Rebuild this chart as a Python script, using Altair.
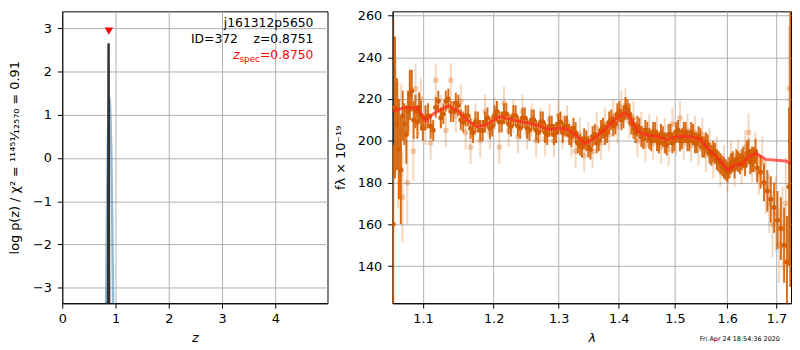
import altair as alt
import pandas as pd

# ---------------- left panel: log p(z) ----------------
pz_black_z = [0.845, 0.862, 0.870, 0.878, 0.895]
pz_black_logp = [-9.0, -2.5, 2.65, -2.5, -9.0]
pz_blue_z = [0.80, 0.82, 0.84, 0.86, 0.875, 0.885, 0.90, 0.92, 0.94, 0.96, 0.98]
pz_blue_logp = [-6.3, -3.9, -1.2, 0.6, 1.27, 1.40, 1.15, 0.2, -1.6, -4.0, -7.0]
zspec_z = [0.875]
zspec_y = [2.93]

# ---------------- right panel: spectrum ----------------
model_wave = [1.0598, 1.0749, 1.0925, 1.1036, 1.1148, 1.1353, 1.1469, 1.1609, 1.1751, 1.1894,
              1.2089, 1.2286, 1.2487, 1.2691, 1.2846, 1.3003, 1.3162, 1.3296, 1.3431, 1.3595,
              1.3761, 1.3929, 1.4100, 1.4186, 1.4329, 1.4506, 1.4682, 1.4862, 1.5043, 1.5290,
              1.5476, 1.5667, 1.5858, 1.6019, 1.6148, 1.6281, 1.6446, 1.6580, 1.6780, 1.6987,
              1.7196, 1.7303]
model_flux = [214.2, 215.8, 215.8, 209.5, 213.1, 216.8, 214.7, 210.0, 206.9, 207.6,
              211.6, 210.0, 208.7, 207.3, 205.3, 206.1, 205.3, 202.1, 198.5, 201.4,
              205.3, 210.0, 213.6, 211.6, 204.5, 202.6, 202.1, 200.6, 202.1, 202.1,
              200.6, 195.1, 190.7, 185.9, 188.8, 188.5, 192.7, 193.8, 191.1, 190.7,
              190.3, 189.1]

dark_wave = [1.0605, 1.0628, 1.0655, 1.0680, 1.0705, 1.0730, 1.0752, 1.0778, 1.0800, 1.0825,
             1.0850, 1.0875, 1.0900, 1.0925, 1.0950, 1.0975,
             1.100, 1.107, 1.114, 1.121, 1.128, 1.135, 1.142, 1.149, 1.156, 1.163,
             1.170, 1.177, 1.184, 1.191, 1.198, 1.205, 1.212, 1.219, 1.226, 1.233,
             1.240, 1.247, 1.254, 1.261, 1.268, 1.275, 1.282, 1.289, 1.296, 1.303,
             1.310, 1.317, 1.324, 1.331, 1.338, 1.345, 1.352, 1.359, 1.366, 1.373,
             1.380, 1.387, 1.394, 1.401, 1.408, 1.415, 1.422, 1.429, 1.436, 1.443,
             1.450, 1.457, 1.464, 1.471, 1.478, 1.485, 1.492, 1.499, 1.506, 1.513,
             1.520, 1.527, 1.534, 1.541, 1.548, 1.555, 1.562, 1.569, 1.576, 1.583,
             1.590, 1.597, 1.604, 1.611, 1.618, 1.625, 1.632, 1.639, 1.646, 1.653,
             1.660, 1.667, 1.674, 1.681, 1.688, 1.695, 1.702, 1.709, 1.716, 1.722,
             1.7265, 1.7290]
dark_flux = [160, 216, 208, 196, 186, 212, 208, 203, 214, 222,
             224, 210, 214, 209, 216, 212,
             206, 212, 205, 219, 213, 220, 214, 217, 209, 212,
             204, 209, 205, 211, 207, 214, 209, 213, 207, 212,
             206, 211, 205, 210, 204, 209, 203, 207, 204, 209,
             207, 203, 206, 199, 197, 200, 196, 203, 200, 206,
             204, 210, 208, 214, 211, 215, 208, 204, 206, 201,
             204, 200, 204, 199, 202, 198, 203, 200, 205, 201,
             204, 200, 203, 199, 201, 197, 198, 193, 194, 190,
             188, 186, 187, 190, 191, 189, 192, 194, 190, 191,
             187, 185, 180, 176, 172, 168, 162, 158, 150, 142,
             178, 200]
dark_err = [38, 34, 22, 24, 26, 12, 10, 14, 10, 12,
            10, 9, 8, 8, 7, 7,
            6, 6, 5, 5, 5, 5, 5, 5, 5, 5,
            5, 5, 5, 5, 5, 5, 5, 5, 5, 5,
            5, 5, 5, 5, 5, 5, 5, 5, 5, 5,
            5, 5, 5, 5, 5, 5, 5, 5, 5, 5,
            5, 5, 5, 5, 5, 5, 5, 5, 5, 5,
            5, 5, 5, 5, 5, 5, 5, 5, 5, 5,
            5, 5, 5, 5, 5, 5, 5, 5, 5, 5,
            5, 5, 5, 5, 5, 5, 5, 6, 6, 6,
            7, 8, 9, 10, 11, 12, 14, 15, 18, 22,
            38, 70]

# second set of solid points, interleaved with the first
dark2_wave = [1.1035, 1.1105, 1.1175, 1.1245, 1.1315, 1.1385, 1.1455, 1.1525, 1.1595, 1.1665,
              1.1735, 1.1805, 1.1875, 1.1945, 1.2015, 1.2085, 1.2155, 1.2225, 1.2295, 1.2365,
              1.2435, 1.2505, 1.2575, 1.2645, 1.2715, 1.2785, 1.2855, 1.2925, 1.2995, 1.3065,
              1.3135, 1.3205, 1.3275, 1.3345, 1.3415, 1.3485, 1.3555, 1.3625, 1.3695, 1.3765,
              1.3835, 1.3905, 1.3975, 1.4045, 1.4115, 1.4185, 1.4255, 1.4325, 1.4395, 1.4465,
              1.4535, 1.4605, 1.4675, 1.4745, 1.4815, 1.4885, 1.4955, 1.5025, 1.5095, 1.5165,
              1.5235, 1.5305, 1.5375, 1.5445, 1.5515, 1.5585, 1.5655, 1.5725, 1.5795, 1.5865,
              1.5935, 1.6005, 1.6075, 1.6145, 1.6215, 1.6285, 1.6355, 1.6425, 1.6495, 1.6565]
dark2_flux = [211, 207, 216, 211, 219, 214, 218, 210, 212, 206,
              209, 205, 209, 206, 212, 209, 213, 208, 212, 207,
              211, 206, 210, 205, 209, 204, 207, 203, 208, 204,
              207, 202, 204, 198, 201, 197, 202, 199, 205, 203,
              209, 207, 213, 210, 216, 213, 206, 207, 202, 205,
              201, 204, 200, 203, 199, 203, 199, 204, 200, 204,
              200, 204, 199, 202, 197, 199, 194, 195, 191, 189,
              187, 185, 189, 187, 190, 191, 188, 195, 191, 195]
dark2_err = [6, 6, 5, 5, 5, 5, 5, 5, 5, 5,
             5, 5, 5, 5, 5, 5, 5, 5, 5, 5,
             5, 5, 5, 5, 5, 5, 5, 5, 5, 5,
             5, 5, 5, 5, 5, 5, 5, 5, 5, 5,
             5, 5, 5, 5, 5, 5, 5, 5, 5, 5,
             5, 5, 5, 5, 5, 5, 5, 5, 5, 5,
             5, 5, 5, 5, 5, 5, 5, 5, 5, 5,
             5, 5, 5, 5, 5, 5, 5, 6, 6, 6]

light_wave = [1.0610, 1.0640, 1.0670, 1.0710, 1.0727, 1.0792, 1.0820, 1.0870, 1.0900, 1.0940,
              1.0970, 1.1035, 1.1105, 1.1175, 1.1245, 1.1315, 1.1385, 1.1455, 1.1525, 1.1595,
              1.1665, 1.1735, 1.1805, 1.1875, 1.1945, 1.2015, 1.2085, 1.2155, 1.2225, 1.2295,
              1.2365, 1.2435, 1.2505, 1.2575, 1.2645, 1.2715, 1.2785, 1.2855, 1.2925, 1.2995,
              1.3065, 1.3135, 1.3205, 1.3275, 1.3345, 1.3415, 1.3485, 1.3555, 1.3625, 1.3695,
              1.3765, 1.3835, 1.3905, 1.3975, 1.4045, 1.4115, 1.4185, 1.4255, 1.4325, 1.4395,
              1.4465, 1.4535, 1.4605, 1.4675, 1.4745, 1.4815, 1.4885, 1.4955, 1.5025, 1.5095,
              1.5165, 1.5235, 1.5305, 1.5375, 1.5445, 1.5515, 1.5585, 1.5655, 1.5725, 1.5795,
              1.5865, 1.5935, 1.6005, 1.6075, 1.6145, 1.6215, 1.6285, 1.6355, 1.6425, 1.6495,
              1.6565, 1.6635, 1.6705, 1.6775, 1.6845, 1.6915, 1.6985, 1.7055, 1.7125, 1.7195,
              1.7265]
light_flux = [238, 210, 198, 205, 173, 180, 218, 195, 225, 213,
              220, 207, 199, 229, 214, 205, 229, 212, 219, 204,
              197, 210, 200, 214, 204, 213, 197, 218, 205, 212,
              202, 214, 204, 210, 200, 208, 201, 210, 200, 212,
              204, 209, 200, 195, 203, 193, 201, 195, 206, 199,
              208, 203, 212, 207, 216, 217, 209, 211, 200, 206,
              198, 205, 199, 204, 197, 203, 196, 208, 201, 211,
              199, 205, 198, 204, 196, 203, 193, 198, 190, 194,
              186, 190, 183, 192, 186, 193, 187, 197, 204, 189,
              194, 184, 190, 178, 170, 160, 165, 150, 158, 170,
              225]
light_err = [20, 25, 30, 22, 22, 20, 15, 14, 12, 11,
             10, 9, 8, 8, 8, 8, 8, 8, 8, 8,
             8, 8, 8, 8, 8, 8, 8, 8, 8, 8,
             8, 8, 8, 8, 8, 8, 8, 8, 8, 8,
             8, 8, 8, 8, 8, 8, 8, 8, 8, 8,
             8, 8, 8, 8, 8, 8, 8, 8, 8, 8,
             8, 8, 8, 8, 8, 8, 8, 8, 8, 8,
             8, 8, 8, 8, 8, 8, 8, 8, 8, 8,
             8, 8, 8, 8, 8, 8, 8, 8, 9, 9,
             10, 10, 12, 13, 14, 16, 18, 18, 20, 22,
             30]

ORANGE = "#d45e00"
FONT = "DejaVu Sans"
NB = "\u00a0"

df_black = pd.DataFrame({"z": pz_black_z, "logp": pz_black_logp})
df_blue = pd.DataFrame({"z": pz_blue_z, "logp": pz_blue_logp})
df_zspec = pd.DataFrame({"z": zspec_z, "logp": zspec_y})
df_model = pd.DataFrame({"wave": model_wave, "flux": model_flux})
df_dark = pd.DataFrame({"wave": dark_wave + dark2_wave, "flux": dark_flux + dark2_flux,
                        "err": dark_err + dark2_err})
df_dark["lo"] = df_dark["flux"] - df_dark["err"]
df_dark["hi"] = df_dark["flux"] + df_dark["err"]
df_light = pd.DataFrame({"wave": light_wave, "flux": light_flux, "err": light_err})
df_light["lo"] = df_light["flux"] - df_light["err"]
df_light["hi"] = df_light["flux"] + df_light["err"]

H = 296

# ---------- left chart ----------
zx = alt.Scale(domain=[0, 4.98], nice=False, zero=False)
zy = alt.Scale(domain=[-3.358, 3.387], nice=False, zero=False)
zx_axis = alt.Axis(values=[0, 1, 2, 3, 4], format="d", title="z", titleFontStyle="italic",
                   labelPadding=5, titlePadding=6)
zy_axis = alt.Axis(values=[-3, -2, -1, 0, 1, 2, 3], format="d",
                   title="log p(z) / χ² = ¹¹⁴⁵¹⁄₁₂₅₇₀ = 0.91", labelPadding=6, titlePadding=11)

def zenc(field_y="logp"):
    return dict(x=alt.X("z:Q", scale=zx, axis=zx_axis),
                y=alt.Y(f"{field_y}:Q", scale=zy, axis=zy_axis))

blue = alt.Chart(df_blue).mark_line(color="#1f77b4", opacity=0.5, strokeWidth=2.5, clip=True).encode(**zenc())
black = alt.Chart(df_black).mark_line(color="#333333", strokeWidth=2.5, clip=True).encode(**zenc())
tri = alt.Chart(df_zspec).mark_point(shape="triangle-down", filled=True, color="red", opacity=1,
                                     size=70).encode(**zenc())

def label(txt, x, y, size=12.5, color="black", style="normal"):
    return alt.Chart(pd.DataFrame({"t": [txt]})).mark_text(
        align="right", baseline="alphabetic", font=FONT, fontSize=size, color=color, fontStyle=style
    ).encode(x=alt.value(x), y=alt.value(y), text="t:N")

t1 = label("j161312p5650", 254.7, 15.5)
t2 = label("ID=372" + NB * 4 + "z=0.8751", 254.7, 32)
t3a = label("=0.8750", 254.7, 48, color="red")
t3b = label("spec", 200.5, 51.5, size=9, color="red")
t3c = label("z", 180, 48, color="red", style="italic")

left = alt.layer(blue, black, tri, t1, t2, t3a, t3b, t3c).properties(width=269, height=H)

# ---------- right chart ----------
wx = alt.Scale(type="log", domain=[1.0597, 1.7306], nice=False, zero=False)
wy = alt.Scale(domain=[122.2, 262.0], nice=False, zero=False)
wx_axis = alt.Axis(values=[1.1, 1.2, 1.3, 1.4, 1.5, 1.6, 1.7], format=".1f", title="λ",
                   titleFontStyle="italic", labelPadding=5, titlePadding=6)
wy_axis = alt.Axis(values=[140, 160, 180, 200, 220, 240, 260], format="d",
                   title="fλ × 10⁻¹⁹", labelPadding=6, titlePadding=10)

def wenc(field_y="flux", y2=None):
    d = dict(x=alt.X("wave:Q", scale=wx, axis=wx_axis),
             y=alt.Y(f"{field_y}:Q", scale=wy, axis=wy_axis))
    if y2:
        d["y2"] = alt.Y2(f"{y2}:Q")
    return d

light_e = alt.Chart(df_light).mark_rule(color=ORANGE, opacity=0.25, strokeWidth=2, clip=True).encode(**wenc("lo", "hi"))
light_p = alt.Chart(df_light).mark_circle(color=ORANGE, opacity=0.3, size=34, clip=True).encode(**wenc())
dark_e = alt.Chart(df_dark).mark_rule(color=ORANGE, opacity=0.9, strokeWidth=2, clip=True).encode(**wenc("lo", "hi"))
dark_p = alt.Chart(df_dark).mark_circle(color=ORANGE, opacity=1, size=26, clip=True).encode(**wenc())
model = alt.Chart(df_model).mark_line(color="#ff2418", opacity=0.7, strokeWidth=3, clip=True).encode(**wenc())
stamp = label("Fri Apr 24 18:54:36 2020", 392.7, 334.5, size=6.5)

right = alt.layer(light_e, light_p, dark_e, dark_p, model, stamp).properties(width=404, height=H)

chart = alt.hconcat(left, right, spacing=5).properties(
    padding={"top": -2, "left": 0, "right": 0, "bottom": 0}, background="white"
).configure_view(
    stroke="black", strokeWidth=1
).configure_axis(
    grid=True, gridColor="#b0b0b0", gridWidth=1, domainColor="black", domainWidth=1,
    tickColor="black", tickSize=5, tickWidth=1, labelFlush=False,
    labelFont=FONT, labelFontSize=13, labelColor="black",
    titleFont=FONT, titleFontSize=13, titleFontWeight="normal", titleColor="black"
)

chart.save("out.html", embed_options={"renderer": "svg", "actions": False})
